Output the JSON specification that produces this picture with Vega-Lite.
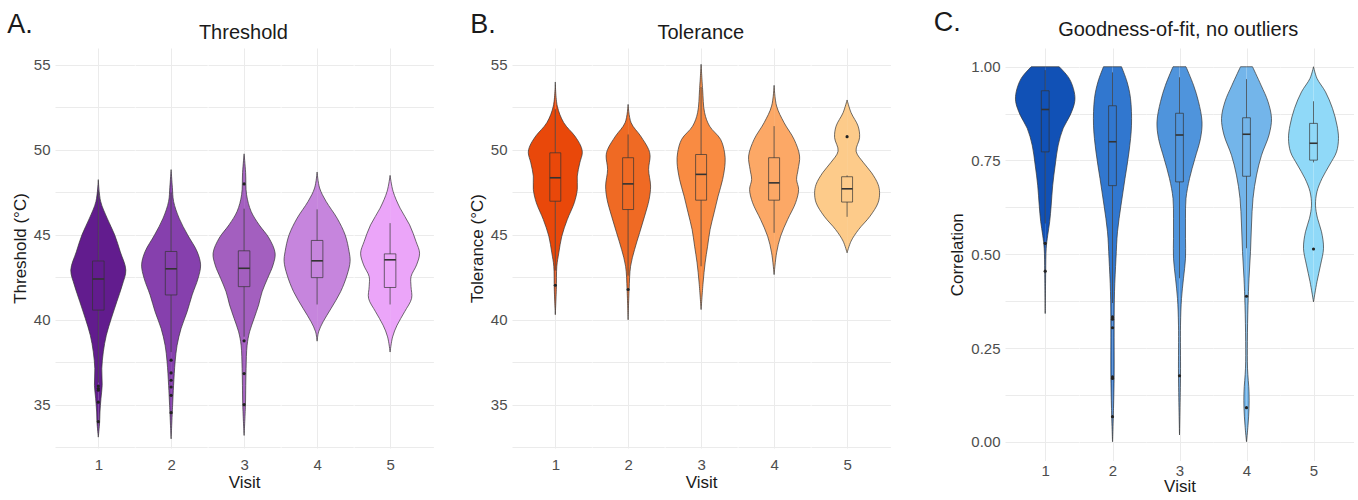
{
"$schema": "https://vega.github.io/schema/vega-lite/v6.json",
"background": "white",
"padding": {"left": 7, "top": 8, "right": 0, "bottom": 0},
"spacing": 34,
"datasets": {
"A": [
{"k":"v","visit":1,"y":48.25,"w":0},{"k":"v","visit":1,"y":46.97,"w":0.065},{"k":"v","visit":1,"y":45.98,"w":0.245},{"k":"v","visit":1,"y":45.0,"w":0.453},{"k":"v","visit":1,"y":44.0,"w":0.609},{"k":"v","visit":1,"y":42.93,"w":0.762},{"k":"v","visit":1,"y":42.05,"w":0.665},{"k":"v","visit":1,"y":41.06,"w":0.512},{"k":"v","visit":1,"y":40.08,"w":0.36},{"k":"v","visit":1,"y":39.09,"w":0.222},{"k":"v","visit":1,"y":38.11,"w":0.139},{"k":"v","visit":1,"y":37.13,"w":0.097},{"k":"v","visit":1,"y":36.14,"w":0.107},{"k":"v","visit":1,"y":35.35,"w":0.073},{"k":"v","visit":1,"y":34.57,"w":0.046},{"k":"v","visit":1,"y":33.98,"w":0.037},{"k":"v","visit":1,"y":33.09,"w":0},
{"k":"v","visit":2,"y":48.84,"w":0},{"k":"v","visit":2,"y":47.8,"w":0.035},{"k":"v","visit":2,"y":46.97,"w":0.069},{"k":"v","visit":2,"y":45.98,"w":0.222},{"k":"v","visit":2,"y":45.0,"w":0.457},{"k":"v","visit":2,"y":44.02,"w":0.72},{"k":"v","visit":2,"y":43.23,"w":0.817},{"k":"v","visit":2,"y":42.44,"w":0.748},{"k":"v","visit":2,"y":41.46,"w":0.582},{"k":"v","visit":2,"y":40.47,"w":0.443},{"k":"v","visit":2,"y":39.49,"w":0.277},{"k":"v","visit":2,"y":38.5,"w":0.166},{"k":"v","visit":2,"y":37.52,"w":0.111},{"k":"v","visit":2,"y":36.14,"w":0.069},{"k":"v","visit":2,"y":34.96,"w":0.042},{"k":"v","visit":2,"y":32.99,"w":0},
{"k":"v","visit":3,"y":49.77,"w":0},{"k":"v","visit":3,"y":48.67,"w":0.042},{"k":"v","visit":3,"y":47.36,"w":0.069},{"k":"v","visit":3,"y":46.38,"w":0.194},{"k":"v","visit":3,"y":45.59,"w":0.416},{"k":"v","visit":3,"y":44.8,"w":0.693},{"k":"v","visit":3,"y":43.92,"w":0.859},{"k":"v","visit":3,"y":43.23,"w":0.803},{"k":"v","visit":3,"y":42.44,"w":0.651},{"k":"v","visit":3,"y":41.65,"w":0.499},{"k":"v","visit":3,"y":40.87,"w":0.402},{"k":"v","visit":3,"y":40.08,"w":0.277},{"k":"v","visit":3,"y":39.29,"w":0.152},{"k":"v","visit":3,"y":38.5,"w":0.083},{"k":"v","visit":3,"y":37.13,"w":0.055},{"k":"v","visit":3,"y":36.14,"w":0.046},{"k":"v","visit":3,"y":34.96,"w":0.037},{"k":"v","visit":3,"y":33.19,"w":0},
{"k":"v","visit":4,"y":48.7,"w":0},{"k":"v","visit":4,"y":47.76,"w":0.069},{"k":"v","visit":4,"y":46.97,"w":0.249},{"k":"v","visit":4,"y":45.98,"w":0.554},{"k":"v","visit":4,"y":45.0,"w":0.776},{"k":"v","visit":4,"y":44.02,"w":0.886},{"k":"v","visit":4,"y":43.43,"w":0.914},{"k":"v","visit":4,"y":42.64,"w":0.831},{"k":"v","visit":4,"y":41.65,"w":0.651},{"k":"v","visit":4,"y":40.67,"w":0.388},{"k":"v","visit":4,"y":39.88,"w":0.166},{"k":"v","visit":4,"y":39.29,"w":0.042},{"k":"v","visit":4,"y":38.74,"w":0},
{"k":"v","visit":5,"y":48.5,"w":0},{"k":"v","visit":5,"y":47.56,"w":0.083},{"k":"v","visit":5,"y":46.57,"w":0.277},{"k":"v","visit":5,"y":45.59,"w":0.54},{"k":"v","visit":5,"y":44.6,"w":0.72},{"k":"v","visit":5,"y":43.92,"w":0.817},{"k":"v","visit":5,"y":43.23,"w":0.734},{"k":"v","visit":5,"y":42.54,"w":0.58},{"k":"v","visit":5,"y":41.95,"w":0.58},{"k":"v","visit":5,"y":41.26,"w":0.596},{"k":"v","visit":5,"y":40.47,"w":0.402},{"k":"v","visit":5,"y":39.68,"w":0.194},{"k":"v","visit":5,"y":38.99,"w":0.069},{"k":"v","visit":5,"y":38.1,"w":0},
{"k":"b","visit":1,"lo":36.3,"q1":40.57,"med":42.4,"q3":43.46,"hi":47.6},
{"k":"b","visit":2,"lo":38.1,"q1":41.46,"med":43.0,"q3":44.02,"hi":47.5},
{"k":"b","visit":3,"lo":39.0,"q1":41.95,"med":43.03,"q3":44.06,"hi":46.54},
{"k":"b","visit":4,"lo":40.9,"q1":42.48,"med":43.47,"q3":44.67,"hi":46.5},
{"k":"b","visit":5,"lo":40.9,"q1":41.9,"med":43.53,"q3":43.88,"hi":45.69},
{"k":"o","visit":1,"y":36.1},{"k":"o","visit":1,"y":35.95},{"k":"o","visit":1,"y":35.85},{"k":"o","visit":1,"y":35.15},{"k":"o","visit":1,"y":34.0},
{"k":"o","visit":2,"y":37.62},{"k":"o","visit":2,"y":36.87},{"k":"o","visit":2,"y":36.44},{"k":"o","visit":2,"y":36.04},{"k":"o","visit":2,"y":35.55},{"k":"o","visit":2,"y":34.53},
{"k":"o","visit":3,"y":48.0},{"k":"o","visit":3,"y":38.76},{"k":"o","visit":3,"y":36.83},{"k":"o","visit":3,"y":35.0}
],
"B": [
{"k":"v","visit":1,"y":54.0,"w":0},{"k":"v","visit":1,"y":52.58,"w":0.055},{"k":"v","visit":1,"y":51.6,"w":0.235},{"k":"v","visit":1,"y":50.82,"w":0.54},{"k":"v","visit":1,"y":50.23,"w":0.706},{"k":"v","visit":1,"y":49.83,"w":0.748},{"k":"v","visit":1,"y":49.24,"w":0.679},{"k":"v","visit":1,"y":48.46,"w":0.609},{"k":"v","visit":1,"y":47.67,"w":0.609},{"k":"v","visit":1,"y":46.89,"w":0.526},{"k":"v","visit":1,"y":45.9,"w":0.332},{"k":"v","visit":1,"y":44.92,"w":0.18},{"k":"v","visit":1,"y":43.94,"w":0.097},{"k":"v","visit":1,"y":43.15,"w":0.042},{"k":"v","visit":1,"y":41.78,"w":0.028},{"k":"v","visit":1,"y":40.3,"w":0},
{"k":"v","visit":2,"y":52.68,"w":0},{"k":"v","visit":2,"y":51.6,"w":0.083},{"k":"v","visit":2,"y":50.82,"w":0.346},{"k":"v","visit":2,"y":50.03,"w":0.568},{"k":"v","visit":2,"y":49.64,"w":0.609},{"k":"v","visit":2,"y":48.85,"w":0.568},{"k":"v","visit":2,"y":47.87,"w":0.623},{"k":"v","visit":2,"y":47.08,"w":0.582},{"k":"v","visit":2,"y":46.1,"w":0.457},{"k":"v","visit":2,"y":45.12,"w":0.319},{"k":"v","visit":2,"y":44.14,"w":0.18},{"k":"v","visit":2,"y":43.15,"w":0.069},{"k":"v","visit":2,"y":41.78,"w":0.028},{"k":"v","visit":2,"y":40.0,"w":0},
{"k":"v","visit":3,"y":55.04,"w":0},{"k":"v","visit":3,"y":53.57,"w":0.042},{"k":"v","visit":3,"y":52.19,"w":0.097},{"k":"v","visit":3,"y":51.4,"w":0.235},{"k":"v","visit":3,"y":50.62,"w":0.54},{"k":"v","visit":3,"y":49.83,"w":0.651},{"k":"v","visit":3,"y":49.24,"w":0.665},{"k":"v","visit":3,"y":48.26,"w":0.596},{"k":"v","visit":3,"y":47.28,"w":0.471},{"k":"v","visit":3,"y":46.3,"w":0.36},{"k":"v","visit":3,"y":45.31,"w":0.249},{"k":"v","visit":3,"y":44.33,"w":0.18},{"k":"v","visit":3,"y":43.35,"w":0.111},{"k":"v","visit":3,"y":42.17,"w":0.055},{"k":"v","visit":3,"y":40.6,"w":0},
{"k":"v","visit":4,"y":53.8,"w":0},{"k":"v","visit":4,"y":52.58,"w":0.069},{"k":"v","visit":4,"y":51.6,"w":0.277},{"k":"v","visit":4,"y":50.62,"w":0.554},{"k":"v","visit":4,"y":49.64,"w":0.706},{"k":"v","visit":4,"y":48.85,"w":0.665},{"k":"v","visit":4,"y":48.26,"w":0.623},{"k":"v","visit":4,"y":47.67,"w":0.679},{"k":"v","visit":4,"y":46.89,"w":0.596},{"k":"v","visit":4,"y":45.9,"w":0.374},{"k":"v","visit":4,"y":44.92,"w":0.18},{"k":"v","visit":4,"y":43.94,"w":0.069},{"k":"v","visit":4,"y":42.66,"w":0},
{"k":"v","visit":5,"y":52.94,"w":0},{"k":"v","visit":5,"y":52.19,"w":0.111},{"k":"v","visit":5,"y":51.4,"w":0.305},{"k":"v","visit":5,"y":50.72,"w":0.346},{"k":"v","visit":5,"y":49.93,"w":0.249},{"k":"v","visit":5,"y":49.24,"w":0.457},{"k":"v","visit":5,"y":48.65,"w":0.679},{"k":"v","visit":5,"y":47.97,"w":0.859},{"k":"v","visit":5,"y":47.48,"w":0.9},{"k":"v","visit":5,"y":46.89,"w":0.859},{"k":"v","visit":5,"y":46.1,"w":0.637},{"k":"v","visit":5,"y":45.31,"w":0.319},{"k":"v","visit":5,"y":44.63,"w":0.111},{"k":"v","visit":5,"y":43.94,"w":0},
{"k":"b","visit":1,"lo":42.9,"q1":46.98,"med":48.36,"q3":49.83,"hi":52.4},
{"k":"b","visit":2,"lo":42.6,"q1":46.49,"med":48.0,"q3":49.54,"hi":50.91},
{"k":"b","visit":3,"lo":43.15,"q1":47.04,"med":48.56,"q3":49.73,"hi":53.7},
{"k":"b","visit":4,"lo":45.12,"q1":47.04,"med":48.06,"q3":49.54,"hi":51.4},
{"k":"b","visit":5,"lo":46.06,"q1":46.93,"med":47.71,"q3":48.42,"hi":48.5},
{"k":"o","visit":1,"y":42.03},{"k":"o","visit":2,"y":41.78},{"k":"o","visit":5,"y":50.78}
],
"C": [
{"k":"v","visit":1,"y":1.0,"w":0.418},{"k":"v","visit":1,"y":0.969,"w":0.716},{"k":"v","visit":1,"y":0.933,"w":0.866},{"k":"v","visit":1,"y":0.907,"w":0.881},{"k":"v","visit":1,"y":0.871,"w":0.746},{"k":"v","visit":1,"y":0.836,"w":0.537},{"k":"v","visit":1,"y":0.791,"w":0.388},{"k":"v","visit":1,"y":0.738,"w":0.299},{"k":"v","visit":1,"y":0.684,"w":0.224},{"k":"v","visit":1,"y":0.631,"w":0.179},{"k":"v","visit":1,"y":0.587,"w":0.134},{"k":"v","visit":1,"y":0.551,"w":0.075},{"k":"v","visit":1,"y":0.516,"w":0.03},{"k":"v","visit":1,"y":0.453,"w":0.015},{"k":"v","visit":1,"y":0.342,"w":0},
{"k":"v","visit":2,"y":1.0,"w":0.269},{"k":"v","visit":2,"y":0.96,"w":0.433},{"k":"v","visit":2,"y":0.916,"w":0.537},{"k":"v","visit":2,"y":0.844,"w":0.567},{"k":"v","visit":2,"y":0.773,"w":0.493},{"k":"v","visit":2,"y":0.702,"w":0.373},{"k":"v","visit":2,"y":0.631,"w":0.254},{"k":"v","visit":2,"y":0.56,"w":0.149},{"k":"v","visit":2,"y":0.489,"w":0.104},{"k":"v","visit":2,"y":0.4,"w":0.06},{"k":"v","visit":2,"y":0.311,"w":0.049},{"k":"v","visit":2,"y":0.178,"w":0.049},{"k":"v","visit":2,"y":0.089,"w":0.03},{"k":"v","visit":2,"y":0.0,"w":0},
{"k":"v","visit":3,"y":1.0,"w":0.194},{"k":"v","visit":3,"y":0.951,"w":0.418},{"k":"v","visit":3,"y":0.907,"w":0.567},{"k":"v","visit":3,"y":0.853,"w":0.672},{"k":"v","visit":3,"y":0.809,"w":0.627},{"k":"v","visit":3,"y":0.756,"w":0.463},{"k":"v","visit":3,"y":0.702,"w":0.299},{"k":"v","visit":3,"y":0.649,"w":0.194},{"k":"v","visit":3,"y":0.596,"w":0.179},{"k":"v","visit":3,"y":0.542,"w":0.179},{"k":"v","visit":3,"y":0.489,"w":0.179},{"k":"v","visit":3,"y":0.436,"w":0.119},{"k":"v","visit":3,"y":0.382,"w":0.06},{"k":"v","visit":3,"y":0.311,"w":0.03},{"k":"v","visit":3,"y":0.178,"w":0.03},{"k":"v","visit":3,"y":0.018,"w":0},
{"k":"v","visit":4,"y":1.0,"w":0.179},{"k":"v","visit":4,"y":0.951,"w":0.433},{"k":"v","visit":4,"y":0.907,"w":0.642},{"k":"v","visit":4,"y":0.862,"w":0.746},{"k":"v","visit":4,"y":0.818,"w":0.672},{"k":"v","visit":4,"y":0.764,"w":0.448},{"k":"v","visit":4,"y":0.711,"w":0.299},{"k":"v","visit":4,"y":0.649,"w":0.194},{"k":"v","visit":4,"y":0.578,"w":0.149},{"k":"v","visit":4,"y":0.507,"w":0.119},{"k":"v","visit":4,"y":0.436,"w":0.075},{"k":"v","visit":4,"y":0.364,"w":0.045},{"k":"v","visit":4,"y":0.267,"w":0.025},{"k":"v","visit":4,"y":0.196,"w":0.03},{"k":"v","visit":4,"y":0.133,"w":0.075},{"k":"v","visit":4,"y":0.089,"w":0.075},{"k":"v","visit":4,"y":0.044,"w":0.045},{"k":"v","visit":4,"y":0.0,"w":0},
{"k":"v","visit":5,"y":1.0,"w":0},{"k":"v","visit":5,"y":0.969,"w":0.104},{"k":"v","visit":5,"y":0.933,"w":0.358},{"k":"v","visit":5,"y":0.889,"w":0.567},{"k":"v","visit":5,"y":0.844,"w":0.701},{"k":"v","visit":5,"y":0.809,"w":0.746},{"k":"v","visit":5,"y":0.773,"w":0.687},{"k":"v","visit":5,"y":0.738,"w":0.478},{"k":"v","visit":5,"y":0.702,"w":0.254},{"k":"v","visit":5,"y":0.667,"w":0.104},{"k":"v","visit":5,"y":0.631,"w":0.06},{"k":"v","visit":5,"y":0.596,"w":0.119},{"k":"v","visit":5,"y":0.56,"w":0.239},{"k":"v","visit":5,"y":0.516,"w":0.299},{"k":"v","visit":5,"y":0.471,"w":0.209},{"k":"v","visit":5,"y":0.427,"w":0.104},{"k":"v","visit":5,"y":0.373,"w":0},
{"k":"b","visit":1,"lo":0.582,"q1":0.773,"med":0.886,"q3":0.936,"hi":0.991},
{"k":"b","visit":2,"lo":0.37,"q1":0.683,"med":0.8,"q3":0.896,"hi":0.985},
{"k":"b","visit":3,"lo":0.436,"q1":0.693,"med":0.818,"q3":0.876,"hi":0.972},
{"k":"b","visit":4,"lo":0.516,"q1":0.708,"med":0.82,"q3":0.864,"hi":0.967},
{"k":"b","visit":5,"lo":0.745,"q1":0.751,"med":0.796,"q3":0.849,"hi":0.908},
{"k":"o","visit":1,"y":0.529},{"k":"o","visit":1,"y":0.455},
{"k":"o","visit":2,"y":0.333},{"k":"o","visit":2,"y":0.327},{"k":"o","visit":2,"y":0.304},{"k":"o","visit":2,"y":0.173},{"k":"o","visit":2,"y":0.169},{"k":"o","visit":2,"y":0.067},
{"k":"o","visit":3,"y":0.176},
{"k":"o","visit":4,"y":0.388},{"k":"o","visit":4,"y":0.091},
{"k":"o","visit":5,"y":0.514}
]
},
"resolve": {"scale": {"y": "independent", "x": "independent"}},
"hconcat": [
{
"title": {"text": "A.", "anchor": "start", "fontSize": 27, "offset": -16, "dx": -4},
"vconcat": [{
"data": {"name": "A"},
"title": {"text": "Threshold", "anchor": "middle", "fontSize": 20, "offset": 5, "dx": 21},
"spacing": 0,
"resolve": {"scale": {"y": "independent", "x": "independent"}},
"hconcat": [
{"width": 79.4, "height": 400, "transform": [{"filter": "datum.visit == 1"}], "resolve": {"scale": {"x": "independent"}}, "layer": [
{"transform": [{"filter": "datum.k=='v'"}], "mark": {"type": "area", "orient": "horizontal", "interpolate": "catmull-rom", "fill": "#621c8e"}, "encoding": {"y": {"field": "y", "type": "quantitative", "scale": {"domain": [32.45, 56]}, "axis": {"title": "Threshold (°C)", "values": [32.5,35,37.5,40,42.5,45,47.5,50,52.5,55], "labelExpr": "datum.value % 5 == 0 ? datum.label : ''"}}, "x": {"field": "w", "type": "quantitative", "scale": {"domain": [-1.2, 1]}, "axis": {"values": [0], "labelExpr": "'1'", "title": null}}, "x2": {"datum": 0}}},
{"transform": [{"filter": "datum.k=='v'"}], "mark": {"type": "area", "orient": "horizontal", "interpolate": "catmull-rom", "fill": "#621c8e"}, "encoding": {"y": {"field": "y", "type": "quantitative", "scale": {"domain": [32.45, 56]}}, "x": {"field": "w", "type": "quantitative", "scale": {"domain": [-1, 1.2], "reverse": true}, "axis": null}, "x2": {"datum": 0}}},
{"transform": [{"filter": "datum.k=='v'"}], "mark": {"type": "line", "interpolate": "catmull-rom", "color": "#333333", "strokeWidth": 0.7}, "encoding": {"y": {"field": "y", "type": "quantitative", "scale": {"domain": [32.45, 56]}}, "x": {"field": "w", "type": "quantitative", "scale": {"domain": [-1.2, 1]}, "axis": null}, "order": {"field": "y", "type": "quantitative"}}},
{"transform": [{"filter": "datum.k=='v'"}], "mark": {"type": "line", "interpolate": "catmull-rom", "color": "#333333", "strokeWidth": 0.7}, "encoding": {"y": {"field": "y", "type": "quantitative", "scale": {"domain": [32.45, 56]}}, "x": {"field": "w", "type": "quantitative", "scale": {"domain": [-1, 1.2], "reverse": true}, "axis": null}, "order": {"field": "y", "type": "quantitative"}}},
{"transform": [{"filter": "datum.k=='b'"}], "mark": {"type": "rule", "color": "#333333", "strokeWidth": 0.7}, "encoding": {"x": {"datum": 0, "type": "quantitative", "scale": {"domain": [-1.2, 1]}, "axis": null}, "y": {"field": "lo", "type": "quantitative", "scale": {"domain": [32.45, 56]}}, "y2": {"field": "hi"}}},
{"transform": [{"filter": "datum.k=='b'"}], "mark": {"type": "rect", "fill": "#621c8e", "stroke": "#333333", "strokeWidth": 0.7}, "encoding": {"x": {"datum": -0.16, "type": "quantitative", "scale": {"domain": [-1.2, 1]}, "axis": null}, "x2": {"datum": 0.16}, "y": {"field": "q1", "type": "quantitative", "scale": {"domain": [32.45, 56]}}, "y2": {"field": "q3"}}},
{"transform": [{"filter": "datum.k=='b'"}], "mark": {"type": "rule", "color": "#333333", "strokeWidth": 1.6}, "encoding": {"x": {"datum": -0.16, "type": "quantitative", "scale": {"domain": [-1.2, 1]}, "axis": null}, "x2": {"datum": 0.16}, "y": {"field": "med", "type": "quantitative", "scale": {"domain": [32.45, 56]}}}},
{"transform": [{"filter": "datum.k=='o'"}], "mark": {"type": "circle", "color": "#222222", "size": 10, "opacity": 1}, "encoding": {"x": {"datum": 0, "type": "quantitative", "scale": {"domain": [-1.2, 1]}, "axis": null}, "y": {"field": "y", "type": "quantitative", "scale": {"domain": [32.45, 56]}}}}
]},
{"width": 72.2, "height": 400, "transform": [{"filter": "datum.visit == 2"}], "resolve": {"scale": {"x": "independent"}}, "layer": [
{"transform": [{"filter": "datum.k=='v'"}], "mark": {"type": "area", "orient": "horizontal", "interpolate": "catmull-rom", "fill": "#8640ad"}, "encoding": {"y": {"field": "y", "type": "quantitative", "scale": {"domain": [32.45, 56]}, "axis": {"values": [32.5,35,37.5,40,42.5,45,47.5,50,52.5,55], "labels": false, "title": null}}, "x": {"field": "w", "type": "quantitative", "scale": {"domain": [-1, 1]}, "axis": {"values": [0], "labelExpr": "'2'", "title": null}}, "x2": {"datum": 0}}},
{"transform": [{"filter": "datum.k=='v'"}], "mark": {"type": "area", "orient": "horizontal", "interpolate": "catmull-rom", "fill": "#8640ad"}, "encoding": {"y": {"field": "y", "type": "quantitative", "scale": {"domain": [32.45, 56]}}, "x": {"field": "w", "type": "quantitative", "scale": {"domain": [-1, 1], "reverse": true}, "axis": null}, "x2": {"datum": 0}}},
{"transform": [{"filter": "datum.k=='v'"}], "mark": {"type": "line", "interpolate": "catmull-rom", "color": "#333333", "strokeWidth": 0.7}, "encoding": {"y": {"field": "y", "type": "quantitative", "scale": {"domain": [32.45, 56]}}, "x": {"field": "w", "type": "quantitative", "scale": {"domain": [-1, 1]}, "axis": null}, "order": {"field": "y", "type": "quantitative"}}},
{"transform": [{"filter": "datum.k=='v'"}], "mark": {"type": "line", "interpolate": "catmull-rom", "color": "#333333", "strokeWidth": 0.7}, "encoding": {"y": {"field": "y", "type": "quantitative", "scale": {"domain": [32.45, 56]}}, "x": {"field": "w", "type": "quantitative", "scale": {"domain": [-1, 1], "reverse": true}, "axis": null}, "order": {"field": "y", "type": "quantitative"}}},
{"transform": [{"filter": "datum.k=='b'"}], "mark": {"type": "rule", "color": "#333333", "strokeWidth": 0.7}, "encoding": {"x": {"datum": 0, "type": "quantitative", "scale": {"domain": [-1, 1]}, "axis": null}, "y": {"field": "lo", "type": "quantitative", "scale": {"domain": [32.45, 56]}}, "y2": {"field": "hi"}}},
{"transform": [{"filter": "datum.k=='b'"}], "mark": {"type": "rect", "fill": "#8640ad", "stroke": "#333333", "strokeWidth": 0.7}, "encoding": {"x": {"datum": -0.16, "type": "quantitative", "scale": {"domain": [-1, 1]}, "axis": null}, "x2": {"datum": 0.16}, "y": {"field": "q1", "type": "quantitative", "scale": {"domain": [32.45, 56]}}, "y2": {"field": "q3"}}},
{"transform": [{"filter": "datum.k=='b'"}], "mark": {"type": "rule", "color": "#333333", "strokeWidth": 1.6}, "encoding": {"x": {"datum": -0.16, "type": "quantitative", "scale": {"domain": [-1, 1]}, "axis": null}, "x2": {"datum": 0.16}, "y": {"field": "med", "type": "quantitative", "scale": {"domain": [32.45, 56]}}}},
{"transform": [{"filter": "datum.k=='o'"}], "mark": {"type": "circle", "color": "#222222", "size": 10, "opacity": 1}, "encoding": {"x": {"datum": 0, "type": "quantitative", "scale": {"domain": [-1, 1]}, "axis": null}, "y": {"field": "y", "type": "quantitative", "scale": {"domain": [32.45, 56]}}}}
]},
{"width": 72.2, "height": 400, "transform": [{"filter": "datum.visit == 3"}], "resolve": {"scale": {"x": "independent"}}, "layer": [
{"transform": [{"filter": "datum.k=='v'"}], "mark": {"type": "area", "orient": "horizontal", "interpolate": "catmull-rom", "fill": "#a35fbf"}, "encoding": {"y": {"field": "y", "type": "quantitative", "scale": {"domain": [32.45, 56]}, "axis": {"values": [32.5,35,37.5,40,42.5,45,47.5,50,52.5,55], "labels": false, "title": null}}, "x": {"field": "w", "type": "quantitative", "scale": {"domain": [-1, 1]}, "axis": {"values": [0], "labelExpr": "'3'", "title": "Visit"}}, "x2": {"datum": 0}}},
{"transform": [{"filter": "datum.k=='v'"}], "mark": {"type": "area", "orient": "horizontal", "interpolate": "catmull-rom", "fill": "#a35fbf"}, "encoding": {"y": {"field": "y", "type": "quantitative", "scale": {"domain": [32.45, 56]}}, "x": {"field": "w", "type": "quantitative", "scale": {"domain": [-1, 1], "reverse": true}, "axis": null}, "x2": {"datum": 0}}},
{"transform": [{"filter": "datum.k=='v'"}], "mark": {"type": "line", "interpolate": "catmull-rom", "color": "#333333", "strokeWidth": 0.7}, "encoding": {"y": {"field": "y", "type": "quantitative", "scale": {"domain": [32.45, 56]}}, "x": {"field": "w", "type": "quantitative", "scale": {"domain": [-1, 1]}, "axis": null}, "order": {"field": "y", "type": "quantitative"}}},
{"transform": [{"filter": "datum.k=='v'"}], "mark": {"type": "line", "interpolate": "catmull-rom", "color": "#333333", "strokeWidth": 0.7}, "encoding": {"y": {"field": "y", "type": "quantitative", "scale": {"domain": [32.45, 56]}}, "x": {"field": "w", "type": "quantitative", "scale": {"domain": [-1, 1], "reverse": true}, "axis": null}, "order": {"field": "y", "type": "quantitative"}}},
{"transform": [{"filter": "datum.k=='b'"}], "mark": {"type": "rule", "color": "#333333", "strokeWidth": 0.7}, "encoding": {"x": {"datum": 0, "type": "quantitative", "scale": {"domain": [-1, 1]}, "axis": null}, "y": {"field": "lo", "type": "quantitative", "scale": {"domain": [32.45, 56]}}, "y2": {"field": "hi"}}},
{"transform": [{"filter": "datum.k=='b'"}], "mark": {"type": "rect", "fill": "#a35fbf", "stroke": "#333333", "strokeWidth": 0.7}, "encoding": {"x": {"datum": -0.16, "type": "quantitative", "scale": {"domain": [-1, 1]}, "axis": null}, "x2": {"datum": 0.16}, "y": {"field": "q1", "type": "quantitative", "scale": {"domain": [32.45, 56]}}, "y2": {"field": "q3"}}},
{"transform": [{"filter": "datum.k=='b'"}], "mark": {"type": "rule", "color": "#333333", "strokeWidth": 1.6}, "encoding": {"x": {"datum": -0.16, "type": "quantitative", "scale": {"domain": [-1, 1]}, "axis": null}, "x2": {"datum": 0.16}, "y": {"field": "med", "type": "quantitative", "scale": {"domain": [32.45, 56]}}}},
{"transform": [{"filter": "datum.k=='o'"}], "mark": {"type": "circle", "color": "#222222", "size": 10, "opacity": 1}, "encoding": {"x": {"datum": 0, "type": "quantitative", "scale": {"domain": [-1, 1]}, "axis": null}, "y": {"field": "y", "type": "quantitative", "scale": {"domain": [32.45, 56]}}}}
]},
{"width": 72.2, "height": 400, "transform": [{"filter": "datum.visit == 4"}], "resolve": {"scale": {"x": "independent"}}, "layer": [
{"transform": [{"filter": "datum.k=='v'"}], "mark": {"type": "area", "orient": "horizontal", "interpolate": "catmull-rom", "fill": "#c685dd"}, "encoding": {"y": {"field": "y", "type": "quantitative", "scale": {"domain": [32.45, 56]}, "axis": {"values": [32.5,35,37.5,40,42.5,45,47.5,50,52.5,55], "labels": false, "title": null}}, "x": {"field": "w", "type": "quantitative", "scale": {"domain": [-1, 1]}, "axis": {"values": [0], "labelExpr": "'4'", "title": null}}, "x2": {"datum": 0}}},
{"transform": [{"filter": "datum.k=='v'"}], "mark": {"type": "area", "orient": "horizontal", "interpolate": "catmull-rom", "fill": "#c685dd"}, "encoding": {"y": {"field": "y", "type": "quantitative", "scale": {"domain": [32.45, 56]}}, "x": {"field": "w", "type": "quantitative", "scale": {"domain": [-1, 1], "reverse": true}, "axis": null}, "x2": {"datum": 0}}},
{"transform": [{"filter": "datum.k=='v'"}], "mark": {"type": "line", "interpolate": "catmull-rom", "color": "#333333", "strokeWidth": 0.7}, "encoding": {"y": {"field": "y", "type": "quantitative", "scale": {"domain": [32.45, 56]}}, "x": {"field": "w", "type": "quantitative", "scale": {"domain": [-1, 1]}, "axis": null}, "order": {"field": "y", "type": "quantitative"}}},
{"transform": [{"filter": "datum.k=='v'"}], "mark": {"type": "line", "interpolate": "catmull-rom", "color": "#333333", "strokeWidth": 0.7}, "encoding": {"y": {"field": "y", "type": "quantitative", "scale": {"domain": [32.45, 56]}}, "x": {"field": "w", "type": "quantitative", "scale": {"domain": [-1, 1], "reverse": true}, "axis": null}, "order": {"field": "y", "type": "quantitative"}}},
{"transform": [{"filter": "datum.k=='b'"}], "mark": {"type": "rule", "color": "#333333", "strokeWidth": 0.7}, "encoding": {"x": {"datum": 0, "type": "quantitative", "scale": {"domain": [-1, 1]}, "axis": null}, "y": {"field": "lo", "type": "quantitative", "scale": {"domain": [32.45, 56]}}, "y2": {"field": "hi"}}},
{"transform": [{"filter": "datum.k=='b'"}], "mark": {"type": "rect", "fill": "#c685dd", "stroke": "#333333", "strokeWidth": 0.7}, "encoding": {"x": {"datum": -0.16, "type": "quantitative", "scale": {"domain": [-1, 1]}, "axis": null}, "x2": {"datum": 0.16}, "y": {"field": "q1", "type": "quantitative", "scale": {"domain": [32.45, 56]}}, "y2": {"field": "q3"}}},
{"transform": [{"filter": "datum.k=='b'"}], "mark": {"type": "rule", "color": "#333333", "strokeWidth": 1.6}, "encoding": {"x": {"datum": -0.16, "type": "quantitative", "scale": {"domain": [-1, 1]}, "axis": null}, "x2": {"datum": 0.16}, "y": {"field": "med", "type": "quantitative", "scale": {"domain": [32.45, 56]}}}},
{"transform": [{"filter": "datum.k=='o'"}], "mark": {"type": "circle", "color": "#222222", "size": 10, "opacity": 1}, "encoding": {"x": {"datum": 0, "type": "quantitative", "scale": {"domain": [-1, 1]}, "axis": null}, "y": {"field": "y", "type": "quantitative", "scale": {"domain": [32.45, 56]}}}}
]},
{"width": 79.4, "height": 400, "transform": [{"filter": "datum.visit == 5"}], "resolve": {"scale": {"x": "independent"}}, "layer": [
{"transform": [{"filter": "datum.k=='v'"}], "mark": {"type": "area", "orient": "horizontal", "interpolate": "catmull-rom", "fill": "#eba5f9"}, "encoding": {"y": {"field": "y", "type": "quantitative", "scale": {"domain": [32.45, 56]}, "axis": {"values": [32.5,35,37.5,40,42.5,45,47.5,50,52.5,55], "labels": false, "title": null}}, "x": {"field": "w", "type": "quantitative", "scale": {"domain": [-1, 1.2]}, "axis": {"values": [0], "labelExpr": "'5'", "title": null}}, "x2": {"datum": 0}}},
{"transform": [{"filter": "datum.k=='v'"}], "mark": {"type": "area", "orient": "horizontal", "interpolate": "catmull-rom", "fill": "#eba5f9"}, "encoding": {"y": {"field": "y", "type": "quantitative", "scale": {"domain": [32.45, 56]}}, "x": {"field": "w", "type": "quantitative", "scale": {"domain": [-1.2, 1], "reverse": true}, "axis": null}, "x2": {"datum": 0}}},
{"transform": [{"filter": "datum.k=='v'"}], "mark": {"type": "line", "interpolate": "catmull-rom", "color": "#333333", "strokeWidth": 0.7}, "encoding": {"y": {"field": "y", "type": "quantitative", "scale": {"domain": [32.45, 56]}}, "x": {"field": "w", "type": "quantitative", "scale": {"domain": [-1, 1.2]}, "axis": null}, "order": {"field": "y", "type": "quantitative"}}},
{"transform": [{"filter": "datum.k=='v'"}], "mark": {"type": "line", "interpolate": "catmull-rom", "color": "#333333", "strokeWidth": 0.7}, "encoding": {"y": {"field": "y", "type": "quantitative", "scale": {"domain": [32.45, 56]}}, "x": {"field": "w", "type": "quantitative", "scale": {"domain": [-1.2, 1], "reverse": true}, "axis": null}, "order": {"field": "y", "type": "quantitative"}}},
{"transform": [{"filter": "datum.k=='b'"}], "mark": {"type": "rule", "color": "#333333", "strokeWidth": 0.7}, "encoding": {"x": {"datum": 0, "type": "quantitative", "scale": {"domain": [-1, 1.2]}, "axis": null}, "y": {"field": "lo", "type": "quantitative", "scale": {"domain": [32.45, 56]}}, "y2": {"field": "hi"}}},
{"transform": [{"filter": "datum.k=='b'"}], "mark": {"type": "rect", "fill": "#eba5f9", "stroke": "#333333", "strokeWidth": 0.7}, "encoding": {"x": {"datum": -0.16, "type": "quantitative", "scale": {"domain": [-1, 1.2]}, "axis": null}, "x2": {"datum": 0.16}, "y": {"field": "q1", "type": "quantitative", "scale": {"domain": [32.45, 56]}}, "y2": {"field": "q3"}}},
{"transform": [{"filter": "datum.k=='b'"}], "mark": {"type": "rule", "color": "#333333", "strokeWidth": 1.6}, "encoding": {"x": {"datum": -0.16, "type": "quantitative", "scale": {"domain": [-1, 1.2]}, "axis": null}, "x2": {"datum": 0.16}, "y": {"field": "med", "type": "quantitative", "scale": {"domain": [32.45, 56]}}}},
{"transform": [{"filter": "datum.k=='o'"}], "mark": {"type": "circle", "color": "#222222", "size": 10, "opacity": 1}, "encoding": {"x": {"datum": 0, "type": "quantitative", "scale": {"domain": [-1, 1.2]}, "axis": null}, "y": {"field": "y", "type": "quantitative", "scale": {"domain": [32.45, 56]}}}}
]}
]
}]
},
{
"spacing": 42,
"resolve": {"scale": {"y": "independent", "x": "independent"}},
"hconcat": [
{
"title": {"text": "B.", "anchor": "start", "fontSize": 27, "offset": -16, "dx": 2},
"vconcat": [{
"data": {"name": "B"},
"title": {"text": "Tolerance", "anchor": "middle", "fontSize": 20, "offset": 5, "dx": 21.5},
"spacing": 0,
"resolve": {"scale": {"y": "independent", "x": "independent"}},
"hconcat": [
{"width": 79.4, "height": 400, "transform": [{"filter": "datum.visit == 1"}], "resolve": {"scale": {"x": "independent"}}, "layer": [
{"transform": [{"filter": "datum.k=='v'"}], "mark": {"type": "area", "orient": "horizontal", "interpolate": "catmull-rom", "fill": "#e9480a"}, "encoding": {"y": {"field": "y", "type": "quantitative", "scale": {"domain": [32.45, 56]}, "axis": {"title": "Tolerance (°C)", "values": [32.5,35,37.5,40,42.5,45,47.5,50,52.5,55], "labelExpr": "datum.value % 5 == 0 ? datum.label : ''"}}, "x": {"field": "w", "type": "quantitative", "scale": {"domain": [-1.2, 1]}, "axis": {"values": [0], "labelExpr": "'1'", "title": null}}, "x2": {"datum": 0}}},
{"transform": [{"filter": "datum.k=='v'"}], "mark": {"type": "area", "orient": "horizontal", "interpolate": "catmull-rom", "fill": "#e9480a"}, "encoding": {"y": {"field": "y", "type": "quantitative", "scale": {"domain": [32.45, 56]}}, "x": {"field": "w", "type": "quantitative", "scale": {"domain": [-1, 1.2], "reverse": true}, "axis": null}, "x2": {"datum": 0}}},
{"transform": [{"filter": "datum.k=='v'"}], "mark": {"type": "line", "interpolate": "catmull-rom", "color": "#333333", "strokeWidth": 0.7}, "encoding": {"y": {"field": "y", "type": "quantitative", "scale": {"domain": [32.45, 56]}}, "x": {"field": "w", "type": "quantitative", "scale": {"domain": [-1.2, 1]}, "axis": null}, "order": {"field": "y", "type": "quantitative"}}},
{"transform": [{"filter": "datum.k=='v'"}], "mark": {"type": "line", "interpolate": "catmull-rom", "color": "#333333", "strokeWidth": 0.7}, "encoding": {"y": {"field": "y", "type": "quantitative", "scale": {"domain": [32.45, 56]}}, "x": {"field": "w", "type": "quantitative", "scale": {"domain": [-1, 1.2], "reverse": true}, "axis": null}, "order": {"field": "y", "type": "quantitative"}}},
{"transform": [{"filter": "datum.k=='b'"}], "mark": {"type": "rule", "color": "#333333", "strokeWidth": 0.7}, "encoding": {"x": {"datum": 0, "type": "quantitative", "scale": {"domain": [-1.2, 1]}, "axis": null}, "y": {"field": "lo", "type": "quantitative", "scale": {"domain": [32.45, 56]}}, "y2": {"field": "hi"}}},
{"transform": [{"filter": "datum.k=='b'"}], "mark": {"type": "rect", "fill": "#e9480a", "stroke": "#333333", "strokeWidth": 0.7}, "encoding": {"x": {"datum": -0.152, "type": "quantitative", "scale": {"domain": [-1.2, 1]}, "axis": null}, "x2": {"datum": 0.152}, "y": {"field": "q1", "type": "quantitative", "scale": {"domain": [32.45, 56]}}, "y2": {"field": "q3"}}},
{"transform": [{"filter": "datum.k=='b'"}], "mark": {"type": "rule", "color": "#333333", "strokeWidth": 1.6}, "encoding": {"x": {"datum": -0.152, "type": "quantitative", "scale": {"domain": [-1.2, 1]}, "axis": null}, "x2": {"datum": 0.152}, "y": {"field": "med", "type": "quantitative", "scale": {"domain": [32.45, 56]}}}},
{"transform": [{"filter": "datum.k=='o'"}], "mark": {"type": "circle", "color": "#222222", "size": 10, "opacity": 1}, "encoding": {"x": {"datum": 0, "type": "quantitative", "scale": {"domain": [-1.2, 1]}, "axis": null}, "y": {"field": "y", "type": "quantitative", "scale": {"domain": [32.45, 56]}}}}
]},
{"width": 72.2, "height": 400, "transform": [{"filter": "datum.visit == 2"}], "resolve": {"scale": {"x": "independent"}}, "layer": [
{"transform": [{"filter": "datum.k=='v'"}], "mark": {"type": "area", "orient": "horizontal", "interpolate": "catmull-rom", "fill": "#ef6a24"}, "encoding": {"y": {"field": "y", "type": "quantitative", "scale": {"domain": [32.45, 56]}, "axis": {"values": [32.5,35,37.5,40,42.5,45,47.5,50,52.5,55], "labels": false, "title": null}}, "x": {"field": "w", "type": "quantitative", "scale": {"domain": [-1, 1]}, "axis": {"values": [0], "labelExpr": "'2'", "title": null}}, "x2": {"datum": 0}}},
{"transform": [{"filter": "datum.k=='v'"}], "mark": {"type": "area", "orient": "horizontal", "interpolate": "catmull-rom", "fill": "#ef6a24"}, "encoding": {"y": {"field": "y", "type": "quantitative", "scale": {"domain": [32.45, 56]}}, "x": {"field": "w", "type": "quantitative", "scale": {"domain": [-1, 1], "reverse": true}, "axis": null}, "x2": {"datum": 0}}},
{"transform": [{"filter": "datum.k=='v'"}], "mark": {"type": "line", "interpolate": "catmull-rom", "color": "#333333", "strokeWidth": 0.7}, "encoding": {"y": {"field": "y", "type": "quantitative", "scale": {"domain": [32.45, 56]}}, "x": {"field": "w", "type": "quantitative", "scale": {"domain": [-1, 1]}, "axis": null}, "order": {"field": "y", "type": "quantitative"}}},
{"transform": [{"filter": "datum.k=='v'"}], "mark": {"type": "line", "interpolate": "catmull-rom", "color": "#333333", "strokeWidth": 0.7}, "encoding": {"y": {"field": "y", "type": "quantitative", "scale": {"domain": [32.45, 56]}}, "x": {"field": "w", "type": "quantitative", "scale": {"domain": [-1, 1], "reverse": true}, "axis": null}, "order": {"field": "y", "type": "quantitative"}}},
{"transform": [{"filter": "datum.k=='b'"}], "mark": {"type": "rule", "color": "#333333", "strokeWidth": 0.7}, "encoding": {"x": {"datum": 0, "type": "quantitative", "scale": {"domain": [-1, 1]}, "axis": null}, "y": {"field": "lo", "type": "quantitative", "scale": {"domain": [32.45, 56]}}, "y2": {"field": "hi"}}},
{"transform": [{"filter": "datum.k=='b'"}], "mark": {"type": "rect", "fill": "#ef6a24", "stroke": "#333333", "strokeWidth": 0.7}, "encoding": {"x": {"datum": -0.152, "type": "quantitative", "scale": {"domain": [-1, 1]}, "axis": null}, "x2": {"datum": 0.152}, "y": {"field": "q1", "type": "quantitative", "scale": {"domain": [32.45, 56]}}, "y2": {"field": "q3"}}},
{"transform": [{"filter": "datum.k=='b'"}], "mark": {"type": "rule", "color": "#333333", "strokeWidth": 1.6}, "encoding": {"x": {"datum": -0.152, "type": "quantitative", "scale": {"domain": [-1, 1]}, "axis": null}, "x2": {"datum": 0.152}, "y": {"field": "med", "type": "quantitative", "scale": {"domain": [32.45, 56]}}}},
{"transform": [{"filter": "datum.k=='o'"}], "mark": {"type": "circle", "color": "#222222", "size": 10, "opacity": 1}, "encoding": {"x": {"datum": 0, "type": "quantitative", "scale": {"domain": [-1, 1]}, "axis": null}, "y": {"field": "y", "type": "quantitative", "scale": {"domain": [32.45, 56]}}}}
]},
{"width": 72.2, "height": 400, "transform": [{"filter": "datum.visit == 3"}], "resolve": {"scale": {"x": "independent"}}, "layer": [
{"transform": [{"filter": "datum.k=='v'"}], "mark": {"type": "area", "orient": "horizontal", "interpolate": "catmull-rom", "fill": "#f98b42"}, "encoding": {"y": {"field": "y", "type": "quantitative", "scale": {"domain": [32.45, 56]}, "axis": {"values": [32.5,35,37.5,40,42.5,45,47.5,50,52.5,55], "labels": false, "title": null}}, "x": {"field": "w", "type": "quantitative", "scale": {"domain": [-1, 1]}, "axis": {"values": [0], "labelExpr": "'3'", "title": "Visit"}}, "x2": {"datum": 0}}},
{"transform": [{"filter": "datum.k=='v'"}], "mark": {"type": "area", "orient": "horizontal", "interpolate": "catmull-rom", "fill": "#f98b42"}, "encoding": {"y": {"field": "y", "type": "quantitative", "scale": {"domain": [32.45, 56]}}, "x": {"field": "w", "type": "quantitative", "scale": {"domain": [-1, 1], "reverse": true}, "axis": null}, "x2": {"datum": 0}}},
{"transform": [{"filter": "datum.k=='v'"}], "mark": {"type": "line", "interpolate": "catmull-rom", "color": "#333333", "strokeWidth": 0.7}, "encoding": {"y": {"field": "y", "type": "quantitative", "scale": {"domain": [32.45, 56]}}, "x": {"field": "w", "type": "quantitative", "scale": {"domain": [-1, 1]}, "axis": null}, "order": {"field": "y", "type": "quantitative"}}},
{"transform": [{"filter": "datum.k=='v'"}], "mark": {"type": "line", "interpolate": "catmull-rom", "color": "#333333", "strokeWidth": 0.7}, "encoding": {"y": {"field": "y", "type": "quantitative", "scale": {"domain": [32.45, 56]}}, "x": {"field": "w", "type": "quantitative", "scale": {"domain": [-1, 1], "reverse": true}, "axis": null}, "order": {"field": "y", "type": "quantitative"}}},
{"transform": [{"filter": "datum.k=='b'"}], "mark": {"type": "rule", "color": "#333333", "strokeWidth": 0.7}, "encoding": {"x": {"datum": 0, "type": "quantitative", "scale": {"domain": [-1, 1]}, "axis": null}, "y": {"field": "lo", "type": "quantitative", "scale": {"domain": [32.45, 56]}}, "y2": {"field": "hi"}}},
{"transform": [{"filter": "datum.k=='b'"}], "mark": {"type": "rect", "fill": "#f98b42", "stroke": "#333333", "strokeWidth": 0.7}, "encoding": {"x": {"datum": -0.152, "type": "quantitative", "scale": {"domain": [-1, 1]}, "axis": null}, "x2": {"datum": 0.152}, "y": {"field": "q1", "type": "quantitative", "scale": {"domain": [32.45, 56]}}, "y2": {"field": "q3"}}},
{"transform": [{"filter": "datum.k=='b'"}], "mark": {"type": "rule", "color": "#333333", "strokeWidth": 1.6}, "encoding": {"x": {"datum": -0.152, "type": "quantitative", "scale": {"domain": [-1, 1]}, "axis": null}, "x2": {"datum": 0.152}, "y": {"field": "med", "type": "quantitative", "scale": {"domain": [32.45, 56]}}}},
{"transform": [{"filter": "datum.k=='o'"}], "mark": {"type": "circle", "color": "#222222", "size": 10, "opacity": 1}, "encoding": {"x": {"datum": 0, "type": "quantitative", "scale": {"domain": [-1, 1]}, "axis": null}, "y": {"field": "y", "type": "quantitative", "scale": {"domain": [32.45, 56]}}}}
]},
{"width": 72.2, "height": 400, "transform": [{"filter": "datum.visit == 4"}], "resolve": {"scale": {"x": "independent"}}, "layer": [
{"transform": [{"filter": "datum.k=='v'"}], "mark": {"type": "area", "orient": "horizontal", "interpolate": "catmull-rom", "fill": "#fca866"}, "encoding": {"y": {"field": "y", "type": "quantitative", "scale": {"domain": [32.45, 56]}, "axis": {"values": [32.5,35,37.5,40,42.5,45,47.5,50,52.5,55], "labels": false, "title": null}}, "x": {"field": "w", "type": "quantitative", "scale": {"domain": [-1, 1]}, "axis": {"values": [0], "labelExpr": "'4'", "title": null}}, "x2": {"datum": 0}}},
{"transform": [{"filter": "datum.k=='v'"}], "mark": {"type": "area", "orient": "horizontal", "interpolate": "catmull-rom", "fill": "#fca866"}, "encoding": {"y": {"field": "y", "type": "quantitative", "scale": {"domain": [32.45, 56]}}, "x": {"field": "w", "type": "quantitative", "scale": {"domain": [-1, 1], "reverse": true}, "axis": null}, "x2": {"datum": 0}}},
{"transform": [{"filter": "datum.k=='v'"}], "mark": {"type": "line", "interpolate": "catmull-rom", "color": "#333333", "strokeWidth": 0.7}, "encoding": {"y": {"field": "y", "type": "quantitative", "scale": {"domain": [32.45, 56]}}, "x": {"field": "w", "type": "quantitative", "scale": {"domain": [-1, 1]}, "axis": null}, "order": {"field": "y", "type": "quantitative"}}},
{"transform": [{"filter": "datum.k=='v'"}], "mark": {"type": "line", "interpolate": "catmull-rom", "color": "#333333", "strokeWidth": 0.7}, "encoding": {"y": {"field": "y", "type": "quantitative", "scale": {"domain": [32.45, 56]}}, "x": {"field": "w", "type": "quantitative", "scale": {"domain": [-1, 1], "reverse": true}, "axis": null}, "order": {"field": "y", "type": "quantitative"}}},
{"transform": [{"filter": "datum.k=='b'"}], "mark": {"type": "rule", "color": "#333333", "strokeWidth": 0.7}, "encoding": {"x": {"datum": 0, "type": "quantitative", "scale": {"domain": [-1, 1]}, "axis": null}, "y": {"field": "lo", "type": "quantitative", "scale": {"domain": [32.45, 56]}}, "y2": {"field": "hi"}}},
{"transform": [{"filter": "datum.k=='b'"}], "mark": {"type": "rect", "fill": "#fca866", "stroke": "#333333", "strokeWidth": 0.7}, "encoding": {"x": {"datum": -0.152, "type": "quantitative", "scale": {"domain": [-1, 1]}, "axis": null}, "x2": {"datum": 0.152}, "y": {"field": "q1", "type": "quantitative", "scale": {"domain": [32.45, 56]}}, "y2": {"field": "q3"}}},
{"transform": [{"filter": "datum.k=='b'"}], "mark": {"type": "rule", "color": "#333333", "strokeWidth": 1.6}, "encoding": {"x": {"datum": -0.152, "type": "quantitative", "scale": {"domain": [-1, 1]}, "axis": null}, "x2": {"datum": 0.152}, "y": {"field": "med", "type": "quantitative", "scale": {"domain": [32.45, 56]}}}},
{"transform": [{"filter": "datum.k=='o'"}], "mark": {"type": "circle", "color": "#222222", "size": 10, "opacity": 1}, "encoding": {"x": {"datum": 0, "type": "quantitative", "scale": {"domain": [-1, 1]}, "axis": null}, "y": {"field": "y", "type": "quantitative", "scale": {"domain": [32.45, 56]}}}}
]},
{"width": 79.4, "height": 400, "transform": [{"filter": "datum.visit == 5"}], "resolve": {"scale": {"x": "independent"}}, "layer": [
{"transform": [{"filter": "datum.k=='v'"}], "mark": {"type": "area", "orient": "horizontal", "interpolate": "catmull-rom", "fill": "#fdcb8a"}, "encoding": {"y": {"field": "y", "type": "quantitative", "scale": {"domain": [32.45, 56]}, "axis": {"values": [32.5,35,37.5,40,42.5,45,47.5,50,52.5,55], "labels": false, "title": null}}, "x": {"field": "w", "type": "quantitative", "scale": {"domain": [-1, 1.2]}, "axis": {"values": [0], "labelExpr": "'5'", "title": null}}, "x2": {"datum": 0}}},
{"transform": [{"filter": "datum.k=='v'"}], "mark": {"type": "area", "orient": "horizontal", "interpolate": "catmull-rom", "fill": "#fdcb8a"}, "encoding": {"y": {"field": "y", "type": "quantitative", "scale": {"domain": [32.45, 56]}}, "x": {"field": "w", "type": "quantitative", "scale": {"domain": [-1.2, 1], "reverse": true}, "axis": null}, "x2": {"datum": 0}}},
{"transform": [{"filter": "datum.k=='v'"}], "mark": {"type": "line", "interpolate": "catmull-rom", "color": "#333333", "strokeWidth": 0.7}, "encoding": {"y": {"field": "y", "type": "quantitative", "scale": {"domain": [32.45, 56]}}, "x": {"field": "w", "type": "quantitative", "scale": {"domain": [-1, 1.2]}, "axis": null}, "order": {"field": "y", "type": "quantitative"}}},
{"transform": [{"filter": "datum.k=='v'"}], "mark": {"type": "line", "interpolate": "catmull-rom", "color": "#333333", "strokeWidth": 0.7}, "encoding": {"y": {"field": "y", "type": "quantitative", "scale": {"domain": [32.45, 56]}}, "x": {"field": "w", "type": "quantitative", "scale": {"domain": [-1.2, 1], "reverse": true}, "axis": null}, "order": {"field": "y", "type": "quantitative"}}},
{"transform": [{"filter": "datum.k=='b'"}], "mark": {"type": "rule", "color": "#333333", "strokeWidth": 0.7}, "encoding": {"x": {"datum": 0, "type": "quantitative", "scale": {"domain": [-1, 1.2]}, "axis": null}, "y": {"field": "lo", "type": "quantitative", "scale": {"domain": [32.45, 56]}}, "y2": {"field": "hi"}}},
{"transform": [{"filter": "datum.k=='b'"}], "mark": {"type": "rect", "fill": "#fdcb8a", "stroke": "#333333", "strokeWidth": 0.7}, "encoding": {"x": {"datum": -0.152, "type": "quantitative", "scale": {"domain": [-1, 1.2]}, "axis": null}, "x2": {"datum": 0.152}, "y": {"field": "q1", "type": "quantitative", "scale": {"domain": [32.45, 56]}}, "y2": {"field": "q3"}}},
{"transform": [{"filter": "datum.k=='b'"}], "mark": {"type": "rule", "color": "#333333", "strokeWidth": 1.6}, "encoding": {"x": {"datum": -0.152, "type": "quantitative", "scale": {"domain": [-1, 1.2]}, "axis": null}, "x2": {"datum": 0.152}, "y": {"field": "med", "type": "quantitative", "scale": {"domain": [32.45, 56]}}}},
{"transform": [{"filter": "datum.k=='o'"}], "mark": {"type": "circle", "color": "#222222", "size": 10, "opacity": 1}, "encoding": {"x": {"datum": 0, "type": "quantitative", "scale": {"domain": [-1, 1.2]}, "axis": null}, "y": {"field": "y", "type": "quantitative", "scale": {"domain": [32.45, 56]}}}}
]}
]
}]
},
{
"title": {"text": "C.", "anchor": "start", "fontSize": 27, "offset": -17, "dx": -15},
"vconcat": [{
"data": {"name": "C"},
"title": {"text": "Goodness-of-fit, no outliers", "anchor": "middle", "fontSize": 20, "offset": 8.5, "dx": 27},
"spacing": 0,
"resolve": {"scale": {"y": "independent", "x": "independent"}},
"hconcat": [
{"width": 73.7, "height": 412.5, "transform": [{"filter": "datum.visit == 1"}], "resolve": {"scale": {"x": "independent"}}, "layer": [
{"transform": [{"filter": "datum.k=='v'"}], "mark": {"type": "area", "orient": "horizontal", "interpolate": "catmull-rom", "fill": "#1151b6"}, "encoding": {"y": {"field": "y", "type": "quantitative", "scale": {"domain": [-0.05, 1.05]}, "axis": {"title": "Correlation", "values": [0,0.125,0.25,0.375,0.5,0.625,0.75,0.875,1], "format": ".2f", "labelExpr": "(datum.value * 4) % 1 == 0 ? datum.label : ''"}}, "x": {"field": "w", "type": "quantitative", "scale": {"domain": [-1.2, 1]}, "axis": {"values": [0], "labelExpr": "'1'", "title": null, "labelPadding": 3}}, "x2": {"datum": 0}}},
{"transform": [{"filter": "datum.k=='v'"}], "mark": {"type": "area", "orient": "horizontal", "interpolate": "catmull-rom", "fill": "#1151b6"}, "encoding": {"y": {"field": "y", "type": "quantitative", "scale": {"domain": [-0.05, 1.05]}}, "x": {"field": "w", "type": "quantitative", "scale": {"domain": [-1, 1.2], "reverse": true}, "axis": null}, "x2": {"datum": 0}}},
{"transform": [{"filter": "datum.k=='v'"}], "mark": {"type": "line", "interpolate": "catmull-rom", "color": "#333333", "strokeWidth": 0.7}, "encoding": {"y": {"field": "y", "type": "quantitative", "scale": {"domain": [-0.05, 1.05]}}, "x": {"field": "w", "type": "quantitative", "scale": {"domain": [-1.2, 1]}, "axis": null}, "order": {"field": "y", "type": "quantitative"}}},
{"transform": [{"filter": "datum.k=='v'"}], "mark": {"type": "line", "interpolate": "catmull-rom", "color": "#333333", "strokeWidth": 0.7}, "encoding": {"y": {"field": "y", "type": "quantitative", "scale": {"domain": [-0.05, 1.05]}}, "x": {"field": "w", "type": "quantitative", "scale": {"domain": [-1, 1.2], "reverse": true}, "axis": null}, "order": {"field": "y", "type": "quantitative"}}},
{"transform": [{"filter": "datum.k=='v' && datum.y == 1 && datum.w > 0"}], "mark": {"type": "rule", "color": "#333333", "strokeWidth": 0.7}, "encoding": {"x": {"field": "w", "type": "quantitative", "scale": {"domain": [-1.2, 1]}, "axis": null}, "x2": {"datum": 0}, "y": {"field": "y", "type": "quantitative", "scale": {"domain": [-0.05, 1.05]}}}},
{"transform": [{"filter": "datum.k=='v' && datum.y == 1 && datum.w > 0"}], "mark": {"type": "rule", "color": "#333333", "strokeWidth": 0.7}, "encoding": {"x": {"field": "w", "type": "quantitative", "scale": {"domain": [-1, 1.2], "reverse": true}, "axis": null}, "x2": {"datum": 0}, "y": {"field": "y", "type": "quantitative", "scale": {"domain": [-0.05, 1.05]}}}},
{"transform": [{"filter": "datum.k=='b'"}], "mark": {"type": "rule", "color": "#333333", "strokeWidth": 0.7}, "encoding": {"x": {"datum": 0, "type": "quantitative", "scale": {"domain": [-1.2, 1]}, "axis": null}, "y": {"field": "lo", "type": "quantitative", "scale": {"domain": [-0.05, 1.05]}}, "y2": {"field": "hi"}}},
{"transform": [{"filter": "datum.k=='b'"}], "mark": {"type": "rect", "fill": "#1151b6", "stroke": "#333333", "strokeWidth": 0.7}, "encoding": {"x": {"datum": -0.116, "type": "quantitative", "scale": {"domain": [-1.2, 1]}, "axis": null}, "x2": {"datum": 0.116}, "y": {"field": "q1", "type": "quantitative", "scale": {"domain": [-0.05, 1.05]}}, "y2": {"field": "q3"}}},
{"transform": [{"filter": "datum.k=='b'"}], "mark": {"type": "rule", "color": "#333333", "strokeWidth": 1.6}, "encoding": {"x": {"datum": -0.116, "type": "quantitative", "scale": {"domain": [-1.2, 1]}, "axis": null}, "x2": {"datum": 0.116}, "y": {"field": "med", "type": "quantitative", "scale": {"domain": [-0.05, 1.05]}}}},
{"transform": [{"filter": "datum.k=='o'"}], "mark": {"type": "circle", "color": "#222222", "size": 10, "opacity": 1}, "encoding": {"x": {"datum": 0, "type": "quantitative", "scale": {"domain": [-1.2, 1]}, "axis": null}, "y": {"field": "y", "type": "quantitative", "scale": {"domain": [-0.05, 1.05]}}}}
]},
{"width": 67, "height": 412.5, "transform": [{"filter": "datum.visit == 2"}], "resolve": {"scale": {"x": "independent"}}, "layer": [
{"transform": [{"filter": "datum.k=='v'"}], "mark": {"type": "area", "orient": "horizontal", "interpolate": "catmull-rom", "fill": "#3177cf"}, "encoding": {"y": {"field": "y", "type": "quantitative", "scale": {"domain": [-0.05, 1.05]}, "axis": {"values": [0,0.125,0.25,0.375,0.5,0.625,0.75,0.875,1], "labels": false, "title": null}}, "x": {"field": "w", "type": "quantitative", "scale": {"domain": [-1, 1]}, "axis": {"values": [0], "labelExpr": "'2'", "title": null, "labelPadding": 3}}, "x2": {"datum": 0}}},
{"transform": [{"filter": "datum.k=='v'"}], "mark": {"type": "area", "orient": "horizontal", "interpolate": "catmull-rom", "fill": "#3177cf"}, "encoding": {"y": {"field": "y", "type": "quantitative", "scale": {"domain": [-0.05, 1.05]}}, "x": {"field": "w", "type": "quantitative", "scale": {"domain": [-1, 1], "reverse": true}, "axis": null}, "x2": {"datum": 0}}},
{"transform": [{"filter": "datum.k=='v'"}], "mark": {"type": "line", "interpolate": "catmull-rom", "color": "#333333", "strokeWidth": 0.7}, "encoding": {"y": {"field": "y", "type": "quantitative", "scale": {"domain": [-0.05, 1.05]}}, "x": {"field": "w", "type": "quantitative", "scale": {"domain": [-1, 1]}, "axis": null}, "order": {"field": "y", "type": "quantitative"}}},
{"transform": [{"filter": "datum.k=='v'"}], "mark": {"type": "line", "interpolate": "catmull-rom", "color": "#333333", "strokeWidth": 0.7}, "encoding": {"y": {"field": "y", "type": "quantitative", "scale": {"domain": [-0.05, 1.05]}}, "x": {"field": "w", "type": "quantitative", "scale": {"domain": [-1, 1], "reverse": true}, "axis": null}, "order": {"field": "y", "type": "quantitative"}}},
{"transform": [{"filter": "datum.k=='v' && datum.y == 1 && datum.w > 0"}], "mark": {"type": "rule", "color": "#333333", "strokeWidth": 0.7}, "encoding": {"x": {"field": "w", "type": "quantitative", "scale": {"domain": [-1, 1]}, "axis": null}, "x2": {"datum": 0}, "y": {"field": "y", "type": "quantitative", "scale": {"domain": [-0.05, 1.05]}}}},
{"transform": [{"filter": "datum.k=='v' && datum.y == 1 && datum.w > 0"}], "mark": {"type": "rule", "color": "#333333", "strokeWidth": 0.7}, "encoding": {"x": {"field": "w", "type": "quantitative", "scale": {"domain": [-1, 1], "reverse": true}, "axis": null}, "x2": {"datum": 0}, "y": {"field": "y", "type": "quantitative", "scale": {"domain": [-0.05, 1.05]}}}},
{"transform": [{"filter": "datum.k=='b'"}], "mark": {"type": "rule", "color": "#333333", "strokeWidth": 0.7}, "encoding": {"x": {"datum": 0, "type": "quantitative", "scale": {"domain": [-1, 1]}, "axis": null}, "y": {"field": "lo", "type": "quantitative", "scale": {"domain": [-0.05, 1.05]}}, "y2": {"field": "hi"}}},
{"transform": [{"filter": "datum.k=='b'"}], "mark": {"type": "rect", "fill": "#3177cf", "stroke": "#333333", "strokeWidth": 0.7}, "encoding": {"x": {"datum": -0.116, "type": "quantitative", "scale": {"domain": [-1, 1]}, "axis": null}, "x2": {"datum": 0.116}, "y": {"field": "q1", "type": "quantitative", "scale": {"domain": [-0.05, 1.05]}}, "y2": {"field": "q3"}}},
{"transform": [{"filter": "datum.k=='b'"}], "mark": {"type": "rule", "color": "#333333", "strokeWidth": 1.6}, "encoding": {"x": {"datum": -0.116, "type": "quantitative", "scale": {"domain": [-1, 1]}, "axis": null}, "x2": {"datum": 0.116}, "y": {"field": "med", "type": "quantitative", "scale": {"domain": [-0.05, 1.05]}}}},
{"transform": [{"filter": "datum.k=='o'"}], "mark": {"type": "circle", "color": "#222222", "size": 10, "opacity": 1}, "encoding": {"x": {"datum": 0, "type": "quantitative", "scale": {"domain": [-1, 1]}, "axis": null}, "y": {"field": "y", "type": "quantitative", "scale": {"domain": [-0.05, 1.05]}}}}
]},
{"width": 67, "height": 412.5, "transform": [{"filter": "datum.visit == 3"}], "resolve": {"scale": {"x": "independent"}}, "layer": [
{"transform": [{"filter": "datum.k=='v'"}], "mark": {"type": "area", "orient": "horizontal", "interpolate": "catmull-rom", "fill": "#4f94dc"}, "encoding": {"y": {"field": "y", "type": "quantitative", "scale": {"domain": [-0.05, 1.05]}, "axis": {"values": [0,0.125,0.25,0.375,0.5,0.625,0.75,0.875,1], "labels": false, "title": null}}, "x": {"field": "w", "type": "quantitative", "scale": {"domain": [-1, 1]}, "axis": {"values": [0], "labelExpr": "'3'", "title": "Visit", "labelPadding": 3, "titlePadding": 0}}, "x2": {"datum": 0}}},
{"transform": [{"filter": "datum.k=='v'"}], "mark": {"type": "area", "orient": "horizontal", "interpolate": "catmull-rom", "fill": "#4f94dc"}, "encoding": {"y": {"field": "y", "type": "quantitative", "scale": {"domain": [-0.05, 1.05]}}, "x": {"field": "w", "type": "quantitative", "scale": {"domain": [-1, 1], "reverse": true}, "axis": null}, "x2": {"datum": 0}}},
{"transform": [{"filter": "datum.k=='v'"}], "mark": {"type": "line", "interpolate": "catmull-rom", "color": "#333333", "strokeWidth": 0.7}, "encoding": {"y": {"field": "y", "type": "quantitative", "scale": {"domain": [-0.05, 1.05]}}, "x": {"field": "w", "type": "quantitative", "scale": {"domain": [-1, 1]}, "axis": null}, "order": {"field": "y", "type": "quantitative"}}},
{"transform": [{"filter": "datum.k=='v'"}], "mark": {"type": "line", "interpolate": "catmull-rom", "color": "#333333", "strokeWidth": 0.7}, "encoding": {"y": {"field": "y", "type": "quantitative", "scale": {"domain": [-0.05, 1.05]}}, "x": {"field": "w", "type": "quantitative", "scale": {"domain": [-1, 1], "reverse": true}, "axis": null}, "order": {"field": "y", "type": "quantitative"}}},
{"transform": [{"filter": "datum.k=='v' && datum.y == 1 && datum.w > 0"}], "mark": {"type": "rule", "color": "#333333", "strokeWidth": 0.7}, "encoding": {"x": {"field": "w", "type": "quantitative", "scale": {"domain": [-1, 1]}, "axis": null}, "x2": {"datum": 0}, "y": {"field": "y", "type": "quantitative", "scale": {"domain": [-0.05, 1.05]}}}},
{"transform": [{"filter": "datum.k=='v' && datum.y == 1 && datum.w > 0"}], "mark": {"type": "rule", "color": "#333333", "strokeWidth": 0.7}, "encoding": {"x": {"field": "w", "type": "quantitative", "scale": {"domain": [-1, 1], "reverse": true}, "axis": null}, "x2": {"datum": 0}, "y": {"field": "y", "type": "quantitative", "scale": {"domain": [-0.05, 1.05]}}}},
{"transform": [{"filter": "datum.k=='b'"}], "mark": {"type": "rule", "color": "#333333", "strokeWidth": 0.7}, "encoding": {"x": {"datum": 0, "type": "quantitative", "scale": {"domain": [-1, 1]}, "axis": null}, "y": {"field": "lo", "type": "quantitative", "scale": {"domain": [-0.05, 1.05]}}, "y2": {"field": "hi"}}},
{"transform": [{"filter": "datum.k=='b'"}], "mark": {"type": "rect", "fill": "#4f94dc", "stroke": "#333333", "strokeWidth": 0.7}, "encoding": {"x": {"datum": -0.116, "type": "quantitative", "scale": {"domain": [-1, 1]}, "axis": null}, "x2": {"datum": 0.116}, "y": {"field": "q1", "type": "quantitative", "scale": {"domain": [-0.05, 1.05]}}, "y2": {"field": "q3"}}},
{"transform": [{"filter": "datum.k=='b'"}], "mark": {"type": "rule", "color": "#333333", "strokeWidth": 1.6}, "encoding": {"x": {"datum": -0.116, "type": "quantitative", "scale": {"domain": [-1, 1]}, "axis": null}, "x2": {"datum": 0.116}, "y": {"field": "med", "type": "quantitative", "scale": {"domain": [-0.05, 1.05]}}}},
{"transform": [{"filter": "datum.k=='o'"}], "mark": {"type": "circle", "color": "#222222", "size": 10, "opacity": 1}, "encoding": {"x": {"datum": 0, "type": "quantitative", "scale": {"domain": [-1, 1]}, "axis": null}, "y": {"field": "y", "type": "quantitative", "scale": {"domain": [-0.05, 1.05]}}}}
]},
{"width": 67, "height": 412.5, "transform": [{"filter": "datum.visit == 4"}], "resolve": {"scale": {"x": "independent"}}, "layer": [
{"transform": [{"filter": "datum.k=='v'"}], "mark": {"type": "area", "orient": "horizontal", "interpolate": "catmull-rom", "fill": "#73b5ea"}, "encoding": {"y": {"field": "y", "type": "quantitative", "scale": {"domain": [-0.05, 1.05]}, "axis": {"values": [0,0.125,0.25,0.375,0.5,0.625,0.75,0.875,1], "labels": false, "title": null}}, "x": {"field": "w", "type": "quantitative", "scale": {"domain": [-1, 1]}, "axis": {"values": [0], "labelExpr": "'4'", "title": null, "labelPadding": 3}}, "x2": {"datum": 0}}},
{"transform": [{"filter": "datum.k=='v'"}], "mark": {"type": "area", "orient": "horizontal", "interpolate": "catmull-rom", "fill": "#73b5ea"}, "encoding": {"y": {"field": "y", "type": "quantitative", "scale": {"domain": [-0.05, 1.05]}}, "x": {"field": "w", "type": "quantitative", "scale": {"domain": [-1, 1], "reverse": true}, "axis": null}, "x2": {"datum": 0}}},
{"transform": [{"filter": "datum.k=='v'"}], "mark": {"type": "line", "interpolate": "catmull-rom", "color": "#333333", "strokeWidth": 0.7}, "encoding": {"y": {"field": "y", "type": "quantitative", "scale": {"domain": [-0.05, 1.05]}}, "x": {"field": "w", "type": "quantitative", "scale": {"domain": [-1, 1]}, "axis": null}, "order": {"field": "y", "type": "quantitative"}}},
{"transform": [{"filter": "datum.k=='v'"}], "mark": {"type": "line", "interpolate": "catmull-rom", "color": "#333333", "strokeWidth": 0.7}, "encoding": {"y": {"field": "y", "type": "quantitative", "scale": {"domain": [-0.05, 1.05]}}, "x": {"field": "w", "type": "quantitative", "scale": {"domain": [-1, 1], "reverse": true}, "axis": null}, "order": {"field": "y", "type": "quantitative"}}},
{"transform": [{"filter": "datum.k=='v' && datum.y == 1 && datum.w > 0"}], "mark": {"type": "rule", "color": "#333333", "strokeWidth": 0.7}, "encoding": {"x": {"field": "w", "type": "quantitative", "scale": {"domain": [-1, 1]}, "axis": null}, "x2": {"datum": 0}, "y": {"field": "y", "type": "quantitative", "scale": {"domain": [-0.05, 1.05]}}}},
{"transform": [{"filter": "datum.k=='v' && datum.y == 1 && datum.w > 0"}], "mark": {"type": "rule", "color": "#333333", "strokeWidth": 0.7}, "encoding": {"x": {"field": "w", "type": "quantitative", "scale": {"domain": [-1, 1], "reverse": true}, "axis": null}, "x2": {"datum": 0}, "y": {"field": "y", "type": "quantitative", "scale": {"domain": [-0.05, 1.05]}}}},
{"transform": [{"filter": "datum.k=='b'"}], "mark": {"type": "rule", "color": "#333333", "strokeWidth": 0.7}, "encoding": {"x": {"datum": 0, "type": "quantitative", "scale": {"domain": [-1, 1]}, "axis": null}, "y": {"field": "lo", "type": "quantitative", "scale": {"domain": [-0.05, 1.05]}}, "y2": {"field": "hi"}}},
{"transform": [{"filter": "datum.k=='b'"}], "mark": {"type": "rect", "fill": "#73b5ea", "stroke": "#333333", "strokeWidth": 0.7}, "encoding": {"x": {"datum": -0.116, "type": "quantitative", "scale": {"domain": [-1, 1]}, "axis": null}, "x2": {"datum": 0.116}, "y": {"field": "q1", "type": "quantitative", "scale": {"domain": [-0.05, 1.05]}}, "y2": {"field": "q3"}}},
{"transform": [{"filter": "datum.k=='b'"}], "mark": {"type": "rule", "color": "#333333", "strokeWidth": 1.6}, "encoding": {"x": {"datum": -0.116, "type": "quantitative", "scale": {"domain": [-1, 1]}, "axis": null}, "x2": {"datum": 0.116}, "y": {"field": "med", "type": "quantitative", "scale": {"domain": [-0.05, 1.05]}}}},
{"transform": [{"filter": "datum.k=='o'"}], "mark": {"type": "circle", "color": "#222222", "size": 10, "opacity": 1}, "encoding": {"x": {"datum": 0, "type": "quantitative", "scale": {"domain": [-1, 1]}, "axis": null}, "y": {"field": "y", "type": "quantitative", "scale": {"domain": [-0.05, 1.05]}}}}
]},
{"width": 73.7, "height": 412.5, "transform": [{"filter": "datum.visit == 5"}], "resolve": {"scale": {"x": "independent"}}, "layer": [
{"transform": [{"filter": "datum.k=='v'"}], "mark": {"type": "area", "orient": "horizontal", "interpolate": "catmull-rom", "fill": "#90d9f8"}, "encoding": {"y": {"field": "y", "type": "quantitative", "scale": {"domain": [-0.05, 1.05]}, "axis": {"values": [0,0.125,0.25,0.375,0.5,0.625,0.75,0.875,1], "labels": false, "title": null}}, "x": {"field": "w", "type": "quantitative", "scale": {"domain": [-1, 1.2]}, "axis": {"values": [0], "labelExpr": "'5'", "title": null, "labelPadding": 3}}, "x2": {"datum": 0}}},
{"transform": [{"filter": "datum.k=='v'"}], "mark": {"type": "area", "orient": "horizontal", "interpolate": "catmull-rom", "fill": "#90d9f8"}, "encoding": {"y": {"field": "y", "type": "quantitative", "scale": {"domain": [-0.05, 1.05]}}, "x": {"field": "w", "type": "quantitative", "scale": {"domain": [-1.2, 1], "reverse": true}, "axis": null}, "x2": {"datum": 0}}},
{"transform": [{"filter": "datum.k=='v'"}], "mark": {"type": "line", "interpolate": "catmull-rom", "color": "#333333", "strokeWidth": 0.7}, "encoding": {"y": {"field": "y", "type": "quantitative", "scale": {"domain": [-0.05, 1.05]}}, "x": {"field": "w", "type": "quantitative", "scale": {"domain": [-1, 1.2]}, "axis": null}, "order": {"field": "y", "type": "quantitative"}}},
{"transform": [{"filter": "datum.k=='v'"}], "mark": {"type": "line", "interpolate": "catmull-rom", "color": "#333333", "strokeWidth": 0.7}, "encoding": {"y": {"field": "y", "type": "quantitative", "scale": {"domain": [-0.05, 1.05]}}, "x": {"field": "w", "type": "quantitative", "scale": {"domain": [-1.2, 1], "reverse": true}, "axis": null}, "order": {"field": "y", "type": "quantitative"}}},
{"transform": [{"filter": "datum.k=='b'"}], "mark": {"type": "rule", "color": "#333333", "strokeWidth": 0.7}, "encoding": {"x": {"datum": 0, "type": "quantitative", "scale": {"domain": [-1, 1.2]}, "axis": null}, "y": {"field": "lo", "type": "quantitative", "scale": {"domain": [-0.05, 1.05]}}, "y2": {"field": "hi"}}},
{"transform": [{"filter": "datum.k=='b'"}], "mark": {"type": "rect", "fill": "#90d9f8", "stroke": "#333333", "strokeWidth": 0.7}, "encoding": {"x": {"datum": -0.116, "type": "quantitative", "scale": {"domain": [-1, 1.2]}, "axis": null}, "x2": {"datum": 0.116}, "y": {"field": "q1", "type": "quantitative", "scale": {"domain": [-0.05, 1.05]}}, "y2": {"field": "q3"}}},
{"transform": [{"filter": "datum.k=='b'"}], "mark": {"type": "rule", "color": "#333333", "strokeWidth": 1.6}, "encoding": {"x": {"datum": -0.116, "type": "quantitative", "scale": {"domain": [-1, 1.2]}, "axis": null}, "x2": {"datum": 0.116}, "y": {"field": "med", "type": "quantitative", "scale": {"domain": [-0.05, 1.05]}}}},
{"transform": [{"filter": "datum.k=='o'"}], "mark": {"type": "circle", "color": "#222222", "size": 10, "opacity": 1}, "encoding": {"x": {"datum": 0, "type": "quantitative", "scale": {"domain": [-1, 1.2]}, "axis": null}, "y": {"field": "y", "type": "quantitative", "scale": {"domain": [-0.05, 1.05]}}}}
]}
]
}]
}
]
}
],
"config": {
 "font": "Liberation Sans",
 "view": {"stroke": null},
 "axis": {"gridColor": "#ebebeb", "gridWidth": 1, "domain": false, "ticks": false, "labelColor": "#4d4d4d", "labelFontSize": 15, "titleFontSize": 17, "titleFontWeight": "normal", "titleColor": "#1a1a1a"},
 "axisY": {"labelPadding": 5, "titlePadding": 4},
 "axisX": {"labelPadding": 9, "titlePadding": 2},
 "title": {"fontWeight": "normal", "color": "#1a1a1a"}
}
}
